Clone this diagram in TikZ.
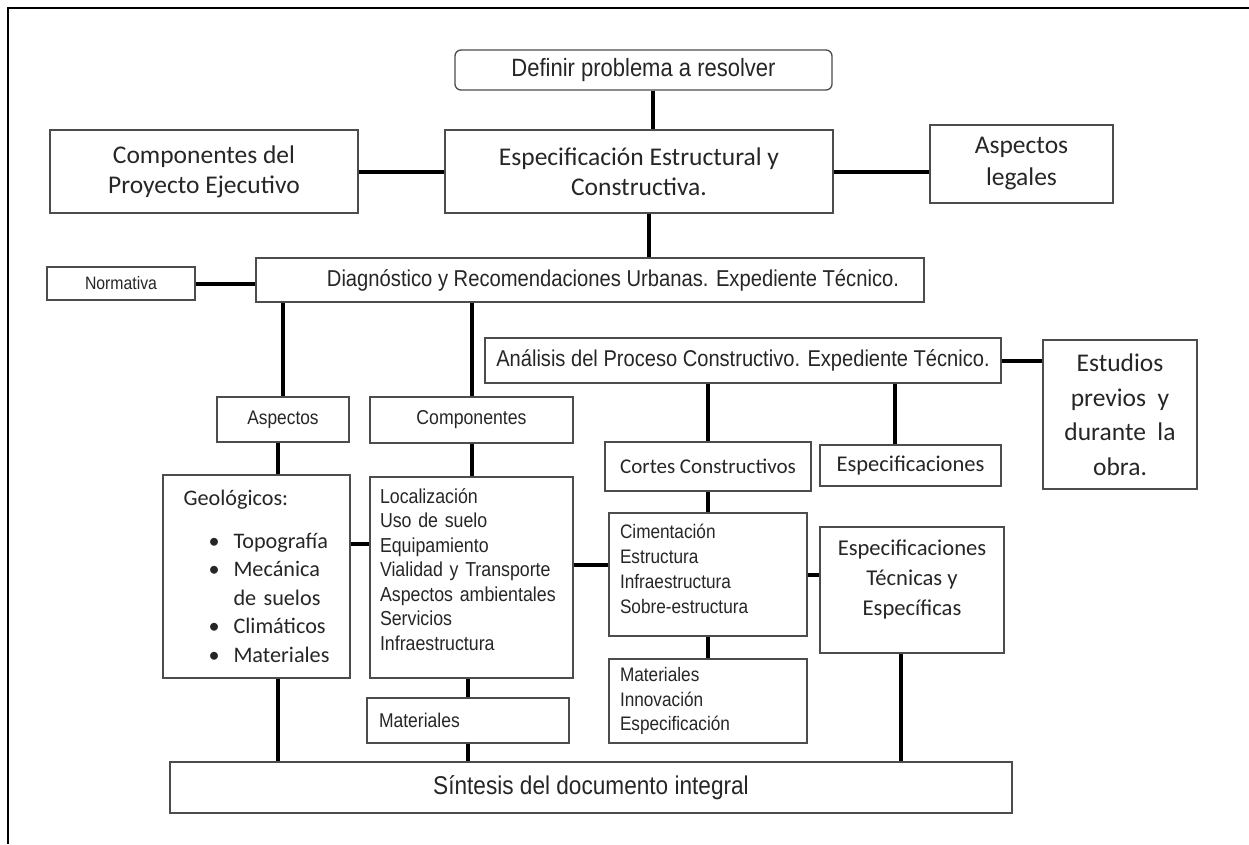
\documentclass[tikz,border=0pt]{standalone}
\usepackage{fontspec}
\setmainfont[FakeStretch=0.88]{Liberation Sans}
\newfontfamily\calibri{Carlito}
\tikzset{
	box/.style={draw=black!70, line width=1.3pt, fill=white, inner sep=0pt, text=black!85},
	link/.style={line width=4pt},
}
\newcommand{\fs}[2]{\fontsize{#1}{#2}\selectfont}
\newcommand{\geoitem}[1]{\hspace*{25pt}\makebox[25pt][l]{\textbullet}#1}
\begin{document}
\begin{tikzpicture}[x=1pt,y=-1pt]
		\useasboundingbox (0,0) rectangle (1249,844);
		\draw [line width=2.5pt] (1249,8) -- (8,8) -- (8,844);
		
		% parte superior
		\node [box, rounded corners=6pt, minimum width=377pt, minimum height=40pt, font=\fs{25}{29}] (definir) at (643.5,70) {Definir problema a resolver};
		\node [box, minimum width=388pt, minimum height=83pt, align=center, font=\calibri\fs{25.5}{30}] (especif) at (639,171.5) {Especificación Estructural y\\Constructiva.};
		\node [box, minimum width=308pt, minimum height=83pt, align=center, font=\calibri\fs{25.5}{30}] (compproy) at (204,171.5) {Componentes del\\Proyecto Ejecutivo};
		\node [box, minimum width=183pt, minimum height=78pt, align=center, font=\calibri\fs{25.5}{32}] (legales) at (1021.5,164) {Aspectos\\legales};
		
		\node [box, minimum width=668pt, minimum height=44pt, font=\fs{22.95}{27}] (diag) at (590,280) {\hspace*{46pt}Diagnóstico y Recomendaciones Urbanas. Expediente Técnico.};
		\node [box, minimum width=148pt, minimum height=33pt, font=\fs{17.95}{21}] (normativa) at (121,283.5) {Normativa};
		
		% rama izquierda
		\node [box, minimum width=132pt, minimum height=45pt, font=\fs{19.66}{23}] (aspectos) at (283,419.5) {Aspectos};
		\node [box, minimum width=203pt, minimum height=46pt, font=\fs{20.1}{23}] (componentes) at (471.5,420) {Componentes};
		\node [box, minimum width=187pt, minimum height=203pt, text width=146pt, align=left, font=\calibri\fs{22.2}{28.5}] (geo) at (256.5,576.5)
			{Geológicos:\\[14pt]\geoitem{Topografía}\\\geoitem{Mecánica}\\\hspace*{50pt}de suelos\\\geoitem{Climáticos}\\\geoitem{Materiales}};
		\node [box, minimum width=203pt, minimum height=201pt, text width=183pt, align=left, text depth=163pt, font=\fs{20.2}{24.5}] (loc) at (471.5,577.5)
			{Localización\\Uso de suelo\\Equipamiento\\Vialidad y Transporte\\Aspectos ambientales\\Servicios\\Infraestructura};
		\node [box, minimum width=202pt, minimum height=45pt, text width=178pt, align=left, font=\fs{19.9}{23}] (mat) at (468,720.5) {Materiales};
		
		% rama derecha
		\node [box, minimum width=516pt, minimum height=45pt, font=\fs{22.84}{27}] (analisis) at (743,360.5) {Análisis del Proceso Constructivo. Expediente Técnico.};
		\node [box, minimum width=154pt, minimum height=149pt, align=center, font=\calibri\fs{25.5}{34.5}] (estudios) at (1120,414.5) {Estudios\\previos~ y\\durante~ la\\obra.};
		\node [box, minimum width=206pt, minimum height=49pt, font=\calibri\fs{21}{25}] (cortes) at (708,466.5) {Cortes Constructivos};
		\node [box, minimum width=181pt, minimum height=41pt, font=\calibri\fs{22.5}{26}] (espec) at (910.5,465.5) {Especificaciones};
		\node [box, minimum width=198pt, minimum height=123pt, text width=176pt, align=left, text depth=86pt, font=\fs{19.55}{25}] (cim) at (708,574.5)
			{Cimentación\\Estructura\\Infraestructura\\Sobre-estructura};
		\node [box, minimum width=184pt, minimum height=126pt, align=center, text depth=24pt, font=\calibri\fs{22.6}{30}] (esptec) at (912,590) {Especificaciones\\Técnicas y\\Específicas};
		\node [box, minimum width=198pt, minimum height=84pt, text width=176pt, align=left, font=\fs{19.55}{24.5}] (matinn) at (708,701)
			{Materiales\\Innovación\\Especificación};
		
		\node [box, minimum width=842pt, minimum height=51pt, font=\fs{25.7}{30}] (sintesis) at (591,787.5) {Síntesis del documento integral};
		
		% conexiones
		\coordinate (d1) at ([xshift=9pt]definir.south);
		\coordinate (e1) at ([xshift=10pt]especif.south);
		\coordinate (a1) at ([xshift=-5pt]aspectos.south);
		\coordinate (g1) at ([yshift=-70pt]geo.north east);
		\coordinate (l1) at ([yshift=10pt]cim.west);
		\coordinate (s1) at ([xshift=-16pt]espec.north);
		\coordinate (t1) at ([xshift=-11pt]esptec.south);
		
		\draw [link] (d1) -- (d1 |- especif.north);
		\draw [link] (e1) -- (e1 |- diag.north);
		\draw [link] (compproy) -- (especif);
		\draw [link] (especif.east) -- (especif.east -| legales.west);
		\draw [link] (normativa.east) -- (normativa.east -| diag.west);
		\draw [link] (aspectos.north) -- (aspectos.north |- diag.south);
		\draw [link] (componentes.north) -- (componentes.north |- diag.south);
		\draw [link] (a1) -- (a1 |- geo.north);
		\draw [link] (a1 |- geo.south) -- (a1 |- sintesis.north);
		\draw [link] (componentes) -- (loc);
		\draw [link] (mat.north) -- (mat.north |- loc.south);
		\draw [link] (mat.south) -- (mat.south |- sintesis.north);
		\draw [link] (g1) -- (g1 -| loc.west);
		\draw [link] (l1) -- (l1 -| loc.east);
		\draw [link] (cim.east) -- (cim.east -| esptec.west);
		\draw [link] (analisis.east) -- (analisis.east -| estudios.west);
		\draw [link] (cortes.north) -- (cortes.north |- analisis.south);
		\draw [link] (cortes) -- (cim);
		\draw [link] (cim) -- (matinn);
		\draw [link] (s1) -- (s1 |- analisis.south);
		\draw [link] (t1) -- (t1 |- sintesis.north);
\end{tikzpicture}
\end{document}
